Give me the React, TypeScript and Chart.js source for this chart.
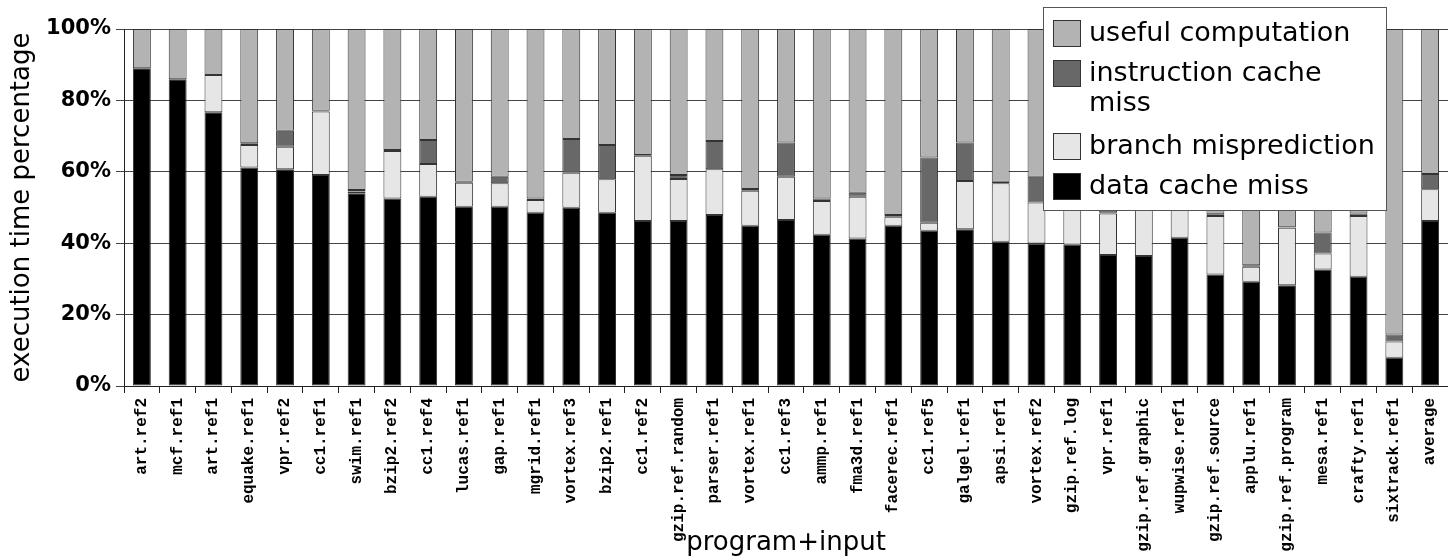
import React, { useEffect, useRef } from "react";
import { Chart, registerables } from "chart.js";

Chart.register(...registerables);

const categories = [
  "art.ref2", "mcf.ref1", "art.ref1", "equake.ref1", "vpr.ref2", "cc1.ref1", "swim.ref1",
  "bzip2.ref2", "cc1.ref4", "lucas.ref1", "gap.ref1", "mgrid.ref1", "vortex.ref3", "bzip2.ref1",
  "cc1.ref2", "gzip.ref.random", "parser.ref1", "vortex.ref1", "cc1.ref3", "ammp.ref1",
  "fma3d.ref1", "facerec.ref1", "cc1.ref5", "galgel.ref1", "apsi.ref1", "vortex.ref2",
  "gzip.ref.log", "vpr.ref1", "gzip.ref.graphic", "wupwise.ref1", "gzip.ref.source",
  "applu.ref1", "gzip.ref.program", "mesa.ref1", "crafty.ref1", "sixtrack.ref1", "average",
];

const dataCacheMiss = [
  89.0, 85.9, 76.7, 61.2, 60.7, 59.1, 54.0, 52.5, 53.0, 50.2, 50.2, 48.5, 49.9, 48.5, 46.2,
  46.2, 47.9, 44.9, 46.5, 42.4, 41.3, 44.9, 43.5, 43.9, 40.4, 39.9, 39.6, 36.7, 36.4, 41.5,
  31.2, 29.2, 28.2, 32.6, 30.6, 7.9, 46.2,
];

const branchMisprediction = [
  0, 0, 10.4, 6.3, 6.3, 17.8, 0.5, 13.3, 9.2, 6.7, 6.6, 3.6, 9.8, 9.4, 18.3, 11.8, 12.8, 9.8,
  12.1, 9.4, 11.7, 2.5, 2.2, 13.5, 16.4, 11.5, 10.5, 11.6, 13.5, 8.5, 16.4, 4.2, 16.1, 4.5,
  17.0, 4.6, 8.9,
];

const instructionCacheMiss = [
  0, 0, 0, 0.5, 4.5, 0.2, 0.4, 0.3, 6.7, 0.3, 1.8, 0.4, 9.5, 9.6, 0.2, 1.1, 7.9, 0.5, 9.6, 0.7,
  1.1, 0.5, 18.3, 10.8, 0.4, 7.2, 0.5, 0.4, 0.5, 0.3, 0.5, 0.4, 0.2, 5.9, 0.7, 1.9, 4.3,
];

const usefulComputation = [
  11.0, 14.1, 12.9, 32.0, 28.5, 22.9, 45.1, 33.9, 31.1, 42.8, 41.4, 47.5, 30.8, 32.5, 35.3,
  40.9, 31.4, 44.8, 31.8, 47.5, 45.9, 52.1, 36.0, 31.8, 42.8, 41.4, 49.4, 51.3, 49.6, 49.7,
  51.9, 66.2, 55.5, 57.0, 51.7, 85.6, 40.6,
];

const yTicks = [0, 20, 40, 60, 80, 100];

const seriesLabels = [
  "data cache miss",
  "branch misprediction",
  "instruction cache miss",
  "useful computation",
];
const seriesColors = ["#000000", "#e6e6e6", "#686868", "#b3b3b3"];

function wrapText(ctx: CanvasRenderingContext2D, text: string, maxWidth: number): string[] {
  const words = text.split(" ");
  const lines: string[] = [];
  let cur = "";
  for (const w of words) {
    const t = cur ? cur + " " + w : w;
    if (ctx.measureText(t).width > maxWidth && cur) {
      lines.push(cur);
      cur = w;
    } else {
      cur = t;
    }
  }
  if (cur) lines.push(cur);
  return lines;
}

const boxLegend = {
  id: "boxLegend",
  afterDraw(chart: any) {
    const ctx: CanvasRenderingContext2D = chart.ctx;
    ctx.save();
    const bx = 1043, by = 7, bw = 343, bh = 203;
    ctx.fillStyle = "#ffffff";
    ctx.fillRect(bx, by, bw, bh);
    ctx.strokeStyle = "#555555";
    ctx.lineWidth = 1;
    ctx.strokeRect(bx + 0.5, by + 0.5, bw, bh);
    ctx.font = "27px 'DejaVu Sans'";
    ctx.textBaseline = "middle";
    ctx.textAlign = "left";
    const items = chart.data.datasets.slice().reverse();
    let cy = 20;
    items.forEach((ds: any) => {
      const lines = wrapText(ctx, ds.label, 290);
      ctx.fillStyle = ds.backgroundColor;
      ctx.fillRect(1053, cy, 28, 27);
      ctx.strokeStyle = "#333333";
      ctx.strokeRect(1053.5, cy + 0.5, 27, 26);
      ctx.fillStyle = "#000000";
      lines.forEach((ln, i) => ctx.fillText(ln, 1089, cy + 14 + i * 30));
      cy += 40 + (lines.length - 1) * 33;
    });
    ctx.restore();
  },
};

export default function App() {
  const ref = useRef<HTMLCanvasElement | null>(null);

  useEffect(() => {
    if (!ref.current) return;
    const series = [dataCacheMiss, branchMisprediction, instructionCacheMiss, usefulComputation];
    const chart = new Chart(ref.current, {
      type: "bar",
      data: {
        labels: categories,
        datasets: series.map((d, i) => ({
          label: seriesLabels[i],
          data: d,
          backgroundColor: seriesColors[i],
          borderColor: "#333333",
          borderWidth: 1,
          borderSkipped: false,
          barPercentage: 0.5,
          categoryPercentage: 1.0,
        })),
      },
      options: {
        responsive: false,
        animation: false,
        layout: { padding: { top: 29, left: 0, right: 0, bottom: 0 } },
        plugins: {
          legend: { display: false },
          tooltip: { enabled: false },
        },
        scales: {
          x: {
            stacked: true,
            grid: {
              display: true,
              drawOnChartArea: false,
              drawTicks: true,
              tickLength: 7,
              color: "#222222",
              offset: true,
            },
            border: { display: true, color: "#222222" },
            ticks: {
              autoSkip: false,
              maxRotation: 90,
              minRotation: 90,
              padding: 5,
              color: "#000000",
              font: { family: "'Liberation Mono'", weight: "bold", size: 16 },
            },
            title: {
              display: true,
              text: "program+input",
              color: "#000000",
              font: { family: "'DejaVu Sans'", size: 26 },
              padding: { top: 0, bottom: 1 },
            },
            afterFit: (s: any) => {
              s.height = 174;
              s.paddingLeft = 0;
              s.paddingRight = 0;
            },
          },
          y: {
            stacked: true,
            min: 0,
            max: 100,
            afterBuildTicks: (s: any) => {
              s.ticks = yTicks.map((v) => ({ value: v }));
            },
            grid: {
              color: "#444444",
              lineWidth: 1,
              tickLength: 8,
            },
            border: { display: true, color: "#222222" },
            ticks: {
              padding: 5,
              color: "#000000",
              font: { family: "'DejaVu Sans'", weight: "bold", size: 21 },
              callback: (v: any) => v + "%",
            },
            title: {
              display: true,
              text: "execution time percentage",
              color: "#000000",
              font: { family: "'DejaVu Sans'", size: 26 },
              padding: { top: 7, bottom: 0 },
            },
            afterFit: (s: any) => {
              s.width = 124;
            },
          },
        },
      },
      plugins: [boxLegend],
    });
    return () => chart.destroy();
  }, []);

  return (
    <div style={{ position: "absolute", left: 0, top: 0, width: 1448, height: 560, background: "#fff" }}>
      <canvas ref={ref} width={1448} height={560} style={{ display: "block" }} />
    </div>
  );
}
